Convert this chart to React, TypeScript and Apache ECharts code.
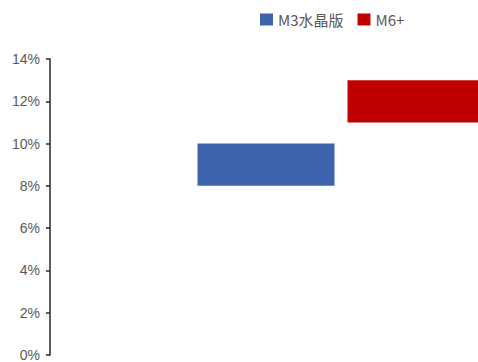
import React, { useEffect, useRef } from "react";
import * as echarts from "echarts";

const categories = [""];
const seriesNames = ["M3水晶版", "M6+"];
const lowValues = [0.08, 0.11];
const highValues = [0.10, 0.13];
const yTicks = { min: 0, max: 0.14, interval: 0.02 };
const colors = ["#3D64AC", "#C00000"];

export default function App() {
  const ref = useRef<HTMLDivElement>(null);
  useEffect(() => {
    if (!ref.current) return;
    document.body.style.margin = "0";
    document.body.style.overflow = "hidden";
    const chart = echarts.init(ref.current, undefined, { renderer: "svg" });
    const series: any[] = [];
    seriesNames.forEach((name, i) => {
      series.push({
        name: "base" + i,
        type: "bar",
        stack: "s" + i,
        data: [lowValues[i]],
        itemStyle: { color: "transparent" },
        barWidth: 137,
        barGap: "9.5%",
        silent: true,
        clip: false,
      });
      series.push({
        name,
        type: "bar",
        stack: "s" + i,
        data: [+(highValues[i] - lowValues[i]).toFixed(4)],
        itemStyle: { color: colors[i] },
        barWidth: 137,
        barGap: "9.5%",
        clip: false,
      });
    });
    chart.setOption({
      animation: false,
      textStyle: { fontFamily: "Noto Sans CJK SC" },
      legend: {
        data: seriesNames,
        left: 255,
        top: 7,
        icon: "rect",
        itemWidth: 13,
        itemHeight: 12,
        itemGap: 14,
        textStyle: {
          color: "#595959",
          fontSize: 15,
          fontFamily: "'Liberation Sans Narrow', 'Noto Sans CJK SC'",
        },
      },
      grid: { left: 50, width: 582, top: 59, bottom: 7, containLabel: false, outerBoundsMode: "none" },
      xAxis: {
        type: "category",
        data: categories,
        show: false,
      },
      yAxis: {
        type: "value",
        min: yTicks.min,
        max: yTicks.max,
        interval: yTicks.interval,
        axisLine: { show: true, lineStyle: { color: "#262626", width: 1.5 } },
        axisTick: { show: true, length: 4, lineStyle: { color: "#262626", width: 1.5 } },
        splitLine: { show: false },
        axisLabel: {
          color: "#595959",
          fontSize: 14,
          margin: 10,
          padding: [2, 0, 0, 0],
          fontFamily: "'Liberation Sans Narrow', 'Liberation Sans'",
          formatter: (v: number) => Math.round(v * 100) + "%",
        },
      },
      series,
    });
    return () => chart.dispose();
  }, []);
  return <div ref={ref} style={{ width: 478, height: 362 }} />;
}
